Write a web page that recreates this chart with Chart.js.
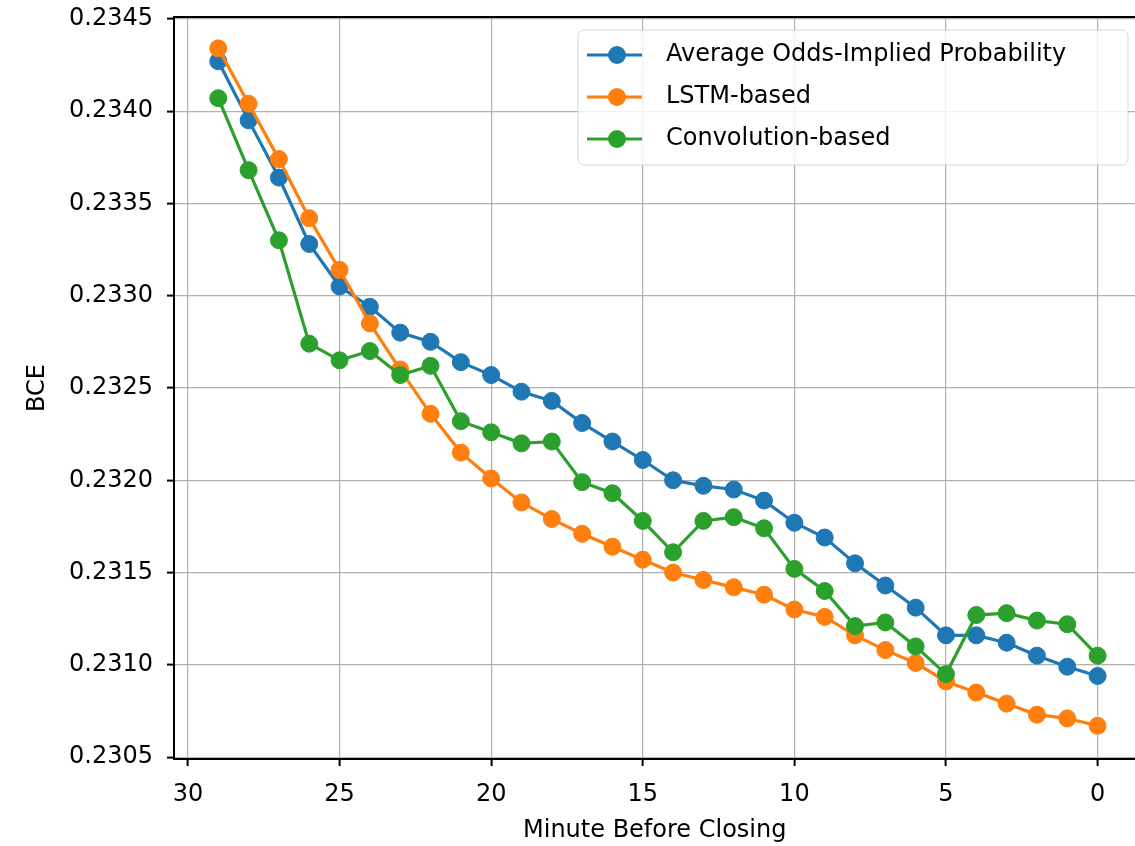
<!DOCTYPE html>
<html>
<head>
<meta charset="utf-8">
<title>BCE by minute before closing</title>
<script src="https://cdn.jsdelivr.net/npm/chart.js@4/dist/chart.umd.min.js"></script>
<style>
  html, body { margin: 0; padding: 0; background: #fff; overflow: hidden; }
  #wrap { position: absolute; left: 0; top: 0; width: 1145px; height: 846px; }
</style>
</head>
<body>
<div id="wrap"><canvas id="bceChart" width="1145" height="846"></canvas></div>
<script>
// minutes before closing (x axis, drawn reversed)
const minutes = [29, 28, 27, 26, 25, 24, 23, 22, 21, 20, 19, 18, 17, 16, 15,
                 14, 13, 12, 11, 10, 9, 8, 7, 6, 5, 4, 3, 2, 1, 0];

const avgOdds = [0.23427, 0.23395, 0.23364, 0.23328, 0.23305, 0.23294, 0.23280, 0.23275,
                 0.23264, 0.23257, 0.23248, 0.23243, 0.23231, 0.23221, 0.23211, 0.23200,
                 0.23197, 0.23195, 0.23189, 0.23177, 0.23169, 0.23155, 0.23143, 0.23131,
                 0.23116, 0.23116, 0.23112, 0.23105, 0.23099, 0.23094];

const lstmBased = [0.23434, 0.23404, 0.23374, 0.23342, 0.23314, 0.23285, 0.23260, 0.23236,
                   0.23215, 0.23201, 0.23188, 0.23179, 0.23171, 0.23164, 0.23157, 0.23150,
                   0.23146, 0.23142, 0.23138, 0.23130, 0.23126, 0.23116, 0.23108, 0.23101,
                   0.23091, 0.23085, 0.23079, 0.23073, 0.23071, 0.23067];

const convBased = [0.23407, 0.23368, 0.23330, 0.23274, 0.23265, 0.23270, 0.23257, 0.23262,
                   0.23232, 0.23226, 0.23220, 0.23221, 0.23199, 0.23193, 0.23178, 0.23161,
                   0.23178, 0.23180, 0.23174, 0.23152, 0.23140, 0.23121, 0.23123, 0.23110,
                   0.23095, 0.23127, 0.23128, 0.23124, 0.23122, 0.23105];

const xTickValues = [30, 25, 20, 15, 10, 5, 0];
const yTickValues = [0.2305, 0.2310, 0.2315, 0.2320, 0.2325, 0.2330, 0.2335, 0.2340, 0.2345];

const seriesNames = ['Average Odds-Implied Probability', 'LSTM-based', 'Convolution-based'];
const seriesColors = ['#1f77b4', '#ff7f0e', '#2ca02c'];

Chart.defaults.font.family = '"DejaVu Sans", sans-serif';
Chart.defaults.font.size = 24;
Chart.defaults.color = '#000';

function toPoints(values) {
    return minutes.map((m, i) => ({ x: m, y: values[i] }));
}

function makeDataset(idx, values) {
    return {
        label: seriesNames[idx],
        data: toPoints(values),
        borderColor: seriesColors[idx],
        backgroundColor: seriesColors[idx],
        borderWidth: 3.2,
        pointRadius: 8.5,
        pointBorderWidth: 1,
        pointBorderColor: seriesColors[idx],
        pointBackgroundColor: seriesColors[idx],
        pointHoverRadius: 8.5,
        tension: 0,
        order: 2 - idx   // matplotlib draws the last series on top
    };
}

// matplotlib style legend inside the plot, top right
const insideLegend = {
    id: 'insideLegend',
    afterDatasetsDraw(chart) {
        const { ctx } = chart;
        const x0 = 578, y0 = 30, w = 550, h = 135, r = 6;

        ctx.save();
        ctx.beginPath();
        ctx.roundRect(x0, y0, w, h, r);
        ctx.fillStyle = 'rgba(255,255,255,0.8)';
        ctx.fill();
        ctx.lineWidth = 1;
        ctx.strokeStyle = 'rgba(204,204,204,0.8)';
        ctx.stroke();

        chart.data.datasets.forEach((ds, i) => {
            const cy = y0 + 25 + i * 42;
            ctx.strokeStyle = ds.borderColor;
            ctx.lineWidth = 3.2;
            ctx.beginPath();
            ctx.moveTo(x0 + 9, cy);
            ctx.lineTo(x0 + 64, cy);
            ctx.stroke();
            ctx.beginPath();
            ctx.arc(x0 + 39, cy, 9, 0, Math.PI * 2);
            ctx.fillStyle = ds.borderColor;
            ctx.fill();

            ctx.fillStyle = '#000';
            ctx.font = '24px "DejaVu Sans", sans-serif';
            ctx.textAlign = 'left';
            ctx.textBaseline = 'middle';
            ctx.fillText(ds.label, x0 + 88, cy);
        });
        ctx.restore();
    },
    afterDraw(chart) {
        // top spine (right spine falls outside the picture)
        const { ctx, chartArea } = chart;
        ctx.save();
        ctx.strokeStyle = '#000';
        ctx.lineWidth = 2;
        ctx.beginPath();
        ctx.moveTo(chartArea.left - 1, chartArea.top);
        ctx.lineTo(chart.width, chartArea.top);
        ctx.stroke();
        ctx.restore();
    }
};

const ctx = document.getElementById('bceChart').getContext('2d');

new Chart(ctx, {
    type: 'line',
    data: {
        datasets: [
            makeDataset(0, avgOdds),
            makeDataset(1, lstmBased),
            makeDataset(2, convBased)
        ]
    },
    options: {
        responsive: false,
        animation: false,
        devicePixelRatio: 1,
        layout: {
            padding: { left: 0, top: 17, right: 0, bottom: 0 }
        },
        plugins: {
            legend: { display: false },
            tooltip: { enabled: false }
        },
        scales: {
            x: {
                type: 'linear',
                reverse: true,
                min: -1.25,
                max: 30.46,
                bounds: 'data',
                afterBuildTicks: (scale) => {
                    scale.ticks = xTickValues.map(v => ({ value: v }));
                },
                afterFit: (scale) => {
                    scale.height = 87;
                    scale.paddingLeft = 0;
                    scale.paddingRight = 0;
                },
                ticks: {
                    padding: 14,
                    maxRotation: 0,
                    autoSkip: false,
                    color: '#000',
                    font: { size: 24 }
                },
                grid: {
                    color: '#b0b0b0',
                    lineWidth: 1.2,
                    drawTicks: true,
                    tickLength: 7,
                    tickWidth: 2,
                    tickColor: '#000'
                },
                border: { color: '#000', width: 2 },
                title: {
                    display: true,
                    text: 'Minute Before Closing',
                    color: '#000',
                    font: { size: 24 },
                    padding: { top: 0, bottom: 1 }
                }
            },
            y: {
                type: 'linear',
                min: 0.23049,
                max: 0.23451,
                bounds: 'data',
                afterBuildTicks: (scale) => {
                    scale.ticks = yTickValues.map(v => ({ value: v }));
                },
                afterFit: (scale) => {
                    scale.width = 174;
                    scale.paddingTop = 0;
                    scale.paddingBottom = 0;
                },
                ticks: {
                    padding: 14,
                    autoSkip: false,
                    color: '#000',
                    font: { size: 24 },
                    callback: (v) => Number(v).toFixed(4)
                },
                grid: {
                    color: '#b0b0b0',
                    lineWidth: 1.2,
                    drawTicks: true,
                    tickLength: 7,
                    tickWidth: 2,
                    tickColor: '#000'
                },
                border: { color: '#000', width: 2 },
                title: {
                    display: true,
                    text: 'BCE',
                    color: '#000',
                    font: { size: 24 },
                    padding: { top: 23, bottom: 0 }
                }
            }
        }
    },
    plugins: [insideLegend]
});
</script>
</body>
</html>
